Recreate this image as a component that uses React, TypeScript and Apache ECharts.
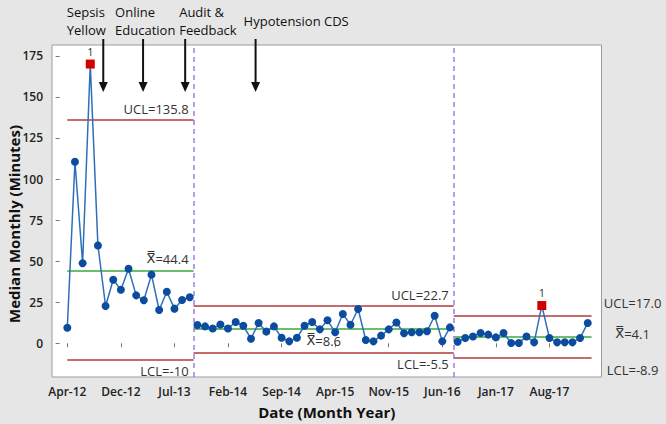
import React, { useEffect, useRef } from "react";
import * as echarts from "echarts";

// ---- data ----
const tickLabels = ["Apr-12", "Dec-12", "Jul-13", "Feb-14", "Sep-14", "Apr-15", "Nov-15", "Jun-16", "Jan-17", "Aug-17"];
const tickObs = [1, 8, 15, 22, 29, 36, 43, 50, 57, 64];
const yTicks = [0, 25, 50, 75, 100, 125, 150, 175];

const stage1Values = [9.5, 110.5, 48.7, 170, 59.6, 22.7, 38.7, 32.6, 45.4, 29.2, 26.2, 41.8, 20.3, 31.4, 21.1, 26.4, 28.0];
const stage2Values = [11.2, 10.3, 9.0, 11.5, 9.0, 13.0, 10.7, 2.8, 12.4, 7.1, 10.3, 3.4, 1.2, 3.4, 10.7, 13.0, 8.5, 14.0, 6.7, 17.9, 11.3, 20.9, 2.0, 1.2, 4.7, 8.5, 12.7, 6.1, 6.7, 6.7, 7.3, 16.8, 1.2, 9.7];
const stage3Values = [1.0, 3.2, 4.2, 6.3, 5.3, 3.6, 6.3, 0.2, 0.2, 4.2, 0.6, 23.0, 3.2, 0.6, 0.6, 0.6, 3.2, 12.4];
const stageFirstObs = [1, 18, 52];
const flaggedObs = [4, 63];

const uclValues = [135.8, 22.7, 17.0];
const centerValues = [44.4, 8.6, 4.1];
const lclValues = [-10, -5.5, -8.9];
const uclLabels = ["UCL=135.8", "UCL=22.7", "UCL=17.0"];
const centerLabels = ["{x|X\u033F}=44.4", "{x|X\u033F}=8.6", "{x|X\u033F}=4.1"];
const lclLabels = ["LCL=-10", "LCL=-5.5", "LCL=-8.9"];

const annotationLabels = ["Sepsis\nYellow", "Online\nEducation", "Audit &\nFeedback", "Hypotension CDS"];
const annotationObs = [5.7, 10.9, 16.4, 25.6];

// ---- styles / layout ----
const FONT = "'Open Sans', 'Noto Sans', sans-serif";
const LIMIT_RED = "#b13b3b";
const CENTER_GREEN = "#3aa83a";
const STAGE_PURPLE = "#9b7fe0";
const textOffsetX = [-36.5, -28, -6, -12];

export default function App() {
  const ref = useRef<HTMLDivElement>(null);

  useEffect(() => {
    if (!ref.current) return;
    const chart = echarts.init(ref.current, null, { renderer: "svg" });

    const stages = [stage1Values, stage2Values, stage3Values];
    const stageStart = stages.map((v, s) => (s === 0 ? stageFirstObs[0] : stageFirstObs[s] - 0.5));
    const stageEnd = stages.map((v, s) => stageFirstObs[s] + v.length - 0.5);
    const breaks = stageFirstObs.slice(1).map((o) => o - 0.5);

    const dataSeries = stages.map((vals, s) => ({
      type: "line",
      data: vals.map((v, i) => {
        const obs = stageFirstObs[s] + i;
        if (flaggedObs.includes(obs)) {
          return {
            value: [obs, v],
            symbol: "rect",
            symbolSize: 9,
            itemStyle: { color: "#d40000" },
            label: { show: true, formatter: "1", position: "top", distance: 3, color: "#333", fontSize: 11, fontFamily: FONT },
          };
        }
        return [obs, v];
      }),
      symbol: "circle",
      symbolSize: 8,
      showAllSymbol: true,
      itemStyle: { color: "#0b4c9e" },
      lineStyle: { color: "#2f6fba", width: 1.5 },
      z: 5,
    }));

    const labelBase = {
      show: true,
      fontSize: 13,
      color: "#333",
      fontFamily: FONT,
      rich: { x: { fontSize: 13, color: "#333", fontFamily: "'DejaVu Sans', sans-serif" } },
    };
    const placement = [
      [{ position: "insideEndTop" }, { position: "insideEndTop" }, { position: "insideEndBottom" }],
      [{ position: "insideEndTop" }, { position: "insideMiddleBottom" }, { position: "insideEndBottom" }],
      [
        { position: "end", distance: 41, align: "center", offset: [0, -12] },
        { position: "end", distance: 41, align: "center", offset: [0, -3] },
        { position: "end", distance: 41, align: "center", offset: [0, 12] },
      ],
    ];

    const markData: any[] = [];
    stages.forEach((v, s) => {
      const rows: [number, string, string][] = [
        [uclValues[s], uclLabels[s], LIMIT_RED],
        [centerValues[s], centerLabels[s], CENTER_GREEN],
        [lclValues[s], lclLabels[s], LIMIT_RED],
      ];
      rows.forEach(([val, text, color], k) => {
        markData.push([
          {
            coord: [stageStart[s], val],
            lineStyle: { color, width: 1.5, type: "solid" },
            label: { ...labelBase, formatter: text, ...placement[s][k] },
          },
          { coord: [stageEnd[s], val] },
        ]);
      });
    });
    breaks.forEach((b) => {
      markData.push({ xAxis: b, lineStyle: { color: STAGE_PURPLE, width: 1.5, type: [5, 4] }, label: { show: false } });
    });

    chart.setOption({
      animation: false,
      backgroundColor: "#e6e6e6",
      grid: {
        left: 52, right: 64.5, top: 45, bottom: 47,
        outerBoundsMode: "none",
        show: true, backgroundColor: "#ffffff", borderColor: "#9c9c9c", borderWidth: 1,
      },
      xAxis: {
        type: "value",
        min: -1,
        max: 70.8,
        splitLine: { show: false },
        axisLine: { show: false },
        axisTick: { show: true, customValues: tickObs, length: 4, lineStyle: { color: "#777" } },
        axisLabel: {
          customValues: tickObs,
          formatter: (val: number) => tickLabels[tickObs.indexOf(Math.round(val))] ?? "",
          fontSize: 12,
          fontWeight: 600,
          color: "#222",
          fontFamily: FONT,
          margin: 8,
        },
        name: "Date (Month Year)",
        nameLocation: "middle",
        nameGap: 27,
        nameMoveOverlap: false,
        nameTextStyle: { fontSize: 15, fontWeight: "bold", color: "#111", fontFamily: FONT },
      },
      yAxis: {
        type: "value",
        min: -20.5,
        max: 181.6,
        splitLine: { show: false },
        axisLine: { show: false },
        axisTick: { show: true, customValues: yTicks, length: 4, lineStyle: { color: "#777" } },
        axisLabel: { customValues: yTicks, fontSize: 12, fontWeight: 600, color: "#222", fontFamily: FONT, margin: 9 },
        name: "Median Monthly (Minutes)",
        nameLocation: "middle",
        nameGap: 31,
        nameMoveOverlap: false,
        nameTextStyle: { fontSize: 15, fontWeight: "bold", color: "#111", fontFamily: FONT, padding: [0, 26, 0, 0] },
      },
      series: [
        ...dataSeries,
        {
          type: "line",
          data: [],
          clip: false,
          silent: true,
          z: 3,
          markLine: { symbol: ["none", "none"], silent: true, animation: false, data: markData },
        },
      ],
    });

    const graphics: any[] = [];
    annotationObs.forEach((obs, i) => {
      const p = chart.convertToPixel({ gridIndex: 0 }, [obs, 0]) as number[];
      const x = p[0];
      graphics.push({ type: "line", shape: { x1: x, y1: 39, x2: x, y2: 84 }, style: { stroke: "#111", lineWidth: 2 }, z: 20 });
      graphics.push({ type: "polygon", shape: { points: [[x - 4.5, 82], [x + 4.5, 82], [x, 92]] }, style: { fill: "#111" }, z: 20 });
      const twoLine = annotationLabels[i].includes("\n");
      graphics.push({
        type: "text",
        x: x + textOffsetX[i],
        y: twoLine ? 3 : 12,
        style: { text: annotationLabels[i], fontSize: 13, lineHeight: 18, fill: "#111", fontFamily: FONT, align: "left", verticalAlign: "top" },
        z: 20,
      });
    });
    chart.setOption({ graphic: graphics });

    return () => chart.dispose();
  }, []);

  return <div ref={ref} style={{ position: "fixed", left: 0, top: 0, width: 666, height: 424 }} />;
}
